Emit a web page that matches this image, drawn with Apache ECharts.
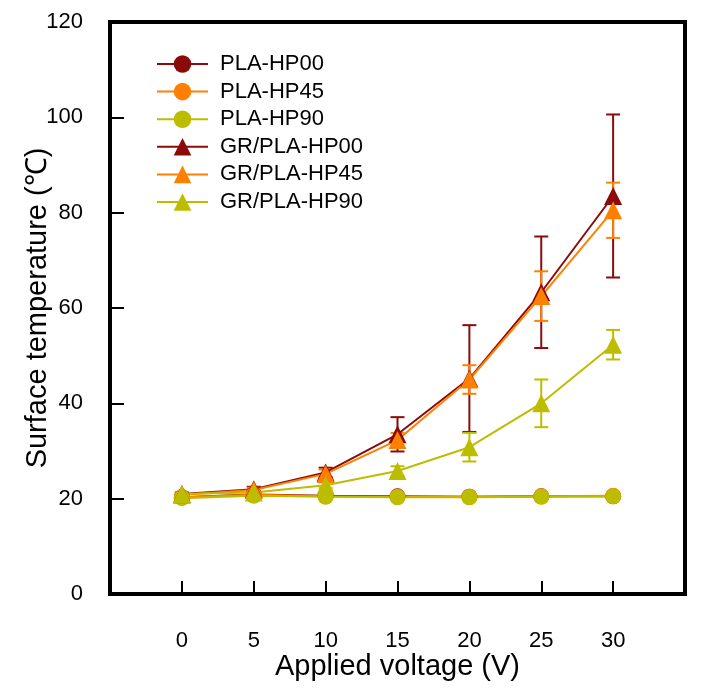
<!DOCTYPE html>
<html>
<head>
<meta charset="utf-8">
<script src="https://cdn.jsdelivr.net/npm/echarts@6/dist/echarts.min.js"></script>
<style>
html,body{margin:0;padding:0;background:#fff;}
#chart{width:701px;height:691px;}
</style>
</head>
<body>
<div id="chart"></div>
<script>
// Data
const voltages = [0, 5, 10, 15, 20, 25, 30];
const seriesNames = ['PLA-HP00', 'PLA-HP45', 'PLA-HP90', 'GR/PLA-HP00', 'GR/PLA-HP45', 'GR/PLA-HP90'];
const plaHP00 = [20.3, 20.9, 20.6, 20.5, 20.4, 20.5, 20.5];
const plaHP45 = [20.3, 20.8, 20.5, 20.4, 20.4, 20.5, 20.6];
const plaHP90 = [20.1, 20.6, 20.4, 20.3, 20.3, 20.4, 20.5];
const grHP00 = [21.0, 22.0, 25.5, 33.5, 45.2, 63.3, 83.5];
const grHP45 = [20.8, 21.8, 25.2, 32.3, 45.0, 62.5, 80.5];
const grHP90 = [21.0, 21.3, 22.8, 25.8, 30.8, 40.0, 52.3];
const grHP00Err = [0.3, 0.5, 1.0, 3.6, 11.2, 11.7, 17.1];
const grHP45Err = [0.3, 0.5, 0.9, 1.5, 3.0, 5.2, 5.8];
const grHP90Err = [0.3, 0.3, 0.6, 1.0, 3.0, 5.0, 3.1];
const yTicks = [0, 20, 40, 60, 80, 100, 120];
const xTicks = [0, 5, 10, 15, 20, 25, 30];

const colors = { d: '#8B0A0A', o: '#FF8000', y: '#BDBD00' };
const FONT = '"Liberation Sans", Arial, sans-serif';

function pairs(vals) { return voltages.map((v, i) => [v, vals[i]]); }

function lineSeries(name, vals, color, symbol) {
  return {
    name: name, type: 'line', data: pairs(vals),
    symbol: symbol, symbolSize: symbol === 'triangle' ? 18 : 16,
    lineStyle: { color: color, width: 2 },
    itemStyle: { color: color },
    z: 3, animation: false
  };
}

function errSeries(vals, errs, color) {
  return {
    type: 'custom', z: 2, silent: true, animation: false,
    data: voltages.map((v, i) => [v, vals[i] - errs[i], vals[i] + errs[i]]),
    renderItem: function (params, api) {
      const x = api.value(0);
      const lo = api.coord([x, api.value(1)]);
      const hi = api.coord([x, api.value(2)]);
      const w = 7;
      const st = { stroke: color, lineWidth: 2 };
      return {
        type: 'group', children: [
          { type: 'line', shape: { x1: lo[0], y1: lo[1], x2: hi[0], y2: hi[1] }, style: st },
          { type: 'line', shape: { x1: lo[0] - w, y1: lo[1], x2: lo[0] + w, y2: lo[1] }, style: st },
          { type: 'line', shape: { x1: hi[0] - w, y1: hi[1], x2: hi[0] + w, y2: hi[1] }, style: st }
        ]
      };
    }
  };
}

const chart = echarts.init(document.getElementById('chart'));
chart.setOption({
  backgroundColor: '#fff',
  animation: false,
  grid: { left: 110, right: 16, top: 22, bottom: 97, show: true, borderColor: '#000', borderWidth: 4, backgroundColor: 'transparent' },
  legend: {
    data: seriesNames,
    orient: 'vertical', left: 151, top: 48,
    itemWidth: 51, itemHeight: 22, itemGap: 5.6,
    textStyle: { fontFamily: FONT, fontSize: 22, color: '#000', lineHeight: 22, padding: [0, 0, 0, 7] }
  },
  xAxis: {
    type: 'value', min: -5, max: 35, interval: 5,
    name: 'Applied voltage (V)', nameLocation: 'middle', nameGap: 58,
    nameMoveOverlap: false,
    nameTextStyle: { fontFamily: FONT, fontSize: 29, color: '#000' },
    axisLine: { show: true, onZero: false, lineStyle: { color: '#000', width: 4 } },
    axisTick: { show: true, inside: true, length: 13, lineStyle: { color: '#000', width: 2 } },
    axisLabel: {
      fontFamily: FONT, fontSize: 22, color: '#000', margin: 36,
      formatter: function (v) { return xTicks.indexOf(v) >= 0 ? String(v) : ''; }
    },
    splitLine: { show: false }
  },
  yAxis: {
    type: 'value', min: 0, max: 120, interval: 20,
    name: 'Surface temperature (\u2103)', nameLocation: 'middle', nameGap: 58,
    nameMoveOverlap: false,
    nameTextStyle: { fontFamily: FONT, fontSize: 29, color: '#000' },
    axisLine: { show: true, onZero: false, lineStyle: { color: '#000', width: 4 } },
    axisTick: { show: true, inside: true, length: 14, lineStyle: { color: '#000', width: 2 } },
    axisLabel: {
      fontFamily: FONT, fontSize: 22, color: '#000', margin: 27,
      formatter: function (v) { return yTicks.indexOf(v) >= 0 ? String(v) : ''; }
    },
    splitLine: { show: false }
  },
  series: [
    errSeries(grHP00, grHP00Err, colors.d),
    errSeries(grHP45, grHP45Err, colors.o),
    errSeries(grHP90, grHP90Err, colors.y),
    lineSeries(seriesNames[0], plaHP00, colors.d, 'circle'),
    lineSeries(seriesNames[1], plaHP45, colors.o, 'circle'),
    lineSeries(seriesNames[2], plaHP90, colors.y, 'circle'),
    lineSeries(seriesNames[3], grHP00, colors.d, 'triangle'),
    lineSeries(seriesNames[4], grHP45, colors.o, 'triangle'),
    lineSeries(seriesNames[5], grHP90, colors.y, 'triangle')
  ]
});
</script>
</body>
</html>
